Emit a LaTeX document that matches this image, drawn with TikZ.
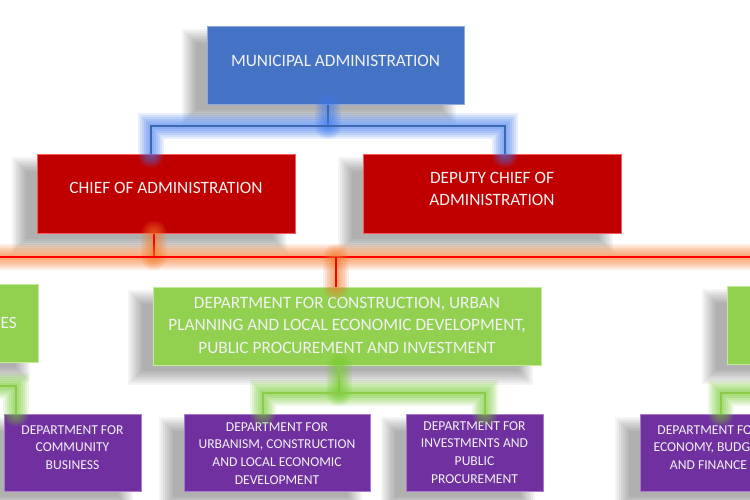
\documentclass[tikz,border=0pt]{standalone}
\usepackage{fontspec}
\setmainfont{Carlito}
\definecolor{cblue}{HTML}{4472C4}
\definecolor{cblueE}{HTML}{8FAADC}
\definecolor{cblueG}{HTML}{3F7BF0}
\definecolor{cred}{HTML}{C00000}
\definecolor{credE}{HTML}{FF5A5A}
\definecolor{cline}{HTML}{FF0000}
\definecolor{corange}{HTML}{F77A2A}
\definecolor{cgreen}{HTML}{92D050}
\definecolor{cgreenE}{HTML}{C0EB98}
\definecolor{cgreenL}{HTML}{8CCB48}
\definecolor{cgreenG}{HTML}{72CC2A}
\definecolor{cpurple}{HTML}{7030A0}
\definecolor{cpurpleE}{HTML}{A97BD0}
\definecolor{ctext}{HTML}{F2F2F2}
\pgfdeclarelayer{bottom}
\pgfdeclarelayer{shade}
\pgfsetlayers{bottom,shade,main}
\tikzset{
  box/.style={rectangle, inner sep=0pt, line width=1pt},
  bluebox/.style={box, fill=cblue, draw=cblueE},
  redbox/.style={box, fill=cred, draw=credE},
  greenbox/.style={box, fill=cgreen, draw=cgreenE},
  purplebox/.style={box, fill=cpurple, draw=cpurpleE},
  bigtxt/.style={text=ctext, align=center, font=\fontsize{17.3}{22.5}\selectfont, inner sep=0pt},
  smalltxt/.style={text=ctext, align=center, font=\fontsize{13.6}{17.8}\selectfont, inner sep=0pt},
  shadelayer/.style={fill=black, opacity=0.045},
  glow/.style={preaction={draw=#1, line width=26pt, opacity=0.12, line cap=round},
               preaction={draw=#1, line width=22pt, opacity=0.13, line cap=round},
               preaction={draw=#1, line width=18pt, opacity=0.14, line cap=round},
               preaction={draw=#1, line width=14pt, opacity=0.15, line cap=round},
               preaction={draw=#1, line width=10pt, opacity=0.15, line cap=round},
               preaction={draw=#1, line width=6pt, opacity=0.15, line cap=round}},
  blueline/.style={glow=cblueG, draw=cblue!90!black, line width=2.6pt},
  redline/.style={glow=corange, draw=cline, line width=2.6pt},
  greenline/.style={glow=cgreenG, draw=cgreenL, line width=2.6pt},
}
\newcommand\boxshade[1]{%
  \foreach \d in {-8,-6,...,6} {%
    \fill[shadelayer] ([shift={(-17+\d,11+\d)}]#1.north west) rectangle ([shift={(-17-\d,11-\d)}]#1.south east);
  }%
}
\begin{document}
\begin{tikzpicture}[x=1pt, y=-1pt]
\useasboundingbox (0,0) rectangle (750,500);
\clip (0,0) rectangle (750,500);
\begin{pgfonlayer}{bottom}
\fill[white] (0,0) rectangle (750,500);
\end{pgfonlayer}

% boxes
\node[bluebox, minimum width=257pt, minimum height=78pt] (blue) at (335.5,66) {};
\node[bigtxt] (tblue) at ([yshift=5pt]blue.center) {MUNICIPAL ADMINISTRATION};

\node[redbox, minimum width=258pt, minimum height=78pt] (red1) at (166,194) {};
\node[bigtxt] (tred1) at ([yshift=6pt]red1.center) {CHIEF OF ADMINISTRATION};
\node[redbox, minimum width=258pt, minimum height=78pt] (red2) at (492,194) {};
\node[bigtxt] (tred2) at ([yshift=5pt]red2.center) {DEPUTY CHIEF OF\\ADMINISTRATION};

\node[greenbox, minimum width=258pt, minimum height=78pt] (greenL) at (-91,323) {};
\node[bigtxt, anchor=east] (tgreenL) at (17,323) {ES};
\node[greenbox, minimum width=388pt, minimum height=78pt] (greenC) at (347,326) {};
\node[bigtxt] (tgreenC) at ([yshift=1pt]greenC.center) {DEPARTMENT FOR CONSTRUCTION, URBAN\\PLANNING AND LOCAL ECONOMIC DEVELOPMENT,\\PUBLIC PROCUREMENT AND INVESTMENT};
\node[greenbox, minimum width=258pt, minimum height=78pt] (greenR) at (856,325) {};

\node[purplebox, minimum width=137pt, minimum height=77pt] (p1) at (72.5,452.5) {};
\node[smalltxt] (tp1) at ([yshift=5pt]p1.center) {DEPARTMENT FOR\\COMMUNITY\\BUSINESS};
\node[purplebox, minimum width=186pt, minimum height=77pt] (p2) at (277,452.5) {};
\node[smalltxt] (tp2) at ([yshift=-1pt]p2.center) {DEPARTMENT FOR\\URBANISM, CONSTRUCTION\\AND LOCAL ECONOMIC\\DEVELOPMENT};
\node[purplebox, minimum width=137pt, minimum height=77pt] (p3) at (474.5,452.5) {};
\node[smalltxt] (tp3) at ([yshift=0pt]p3.center) {DEPARTMENT FOR\\INVESTMENTS AND\\PUBLIC\\PROCUREMENT};
\node[purplebox, minimum width=137pt, minimum height=77pt] (p4) at (708.5,452.5) {};
\node[smalltxt] (tp4) at ([yshift=5pt]p4.center) {DEPARTMENT FOR\\ECONOMY, BUDGET\\AND FINANCE};

% shadows behind all boxes
\begin{pgfonlayer}{shade}
\boxshade{blue}
\boxshade{red1}
\boxshade{red2}
\boxshade{greenL}
\boxshade{greenC}
\boxshade{greenR}
\boxshade{p1}
\boxshade{p2}
\boxshade{p3}
\boxshade{p4}
\end{pgfonlayer}

% junction coordinates
\coordinate (bj) at (328,126);
\coordinate (bL) at (151,126);
\coordinate (bR) at (505,126);
\coordinate (rj) at (154,257);
\coordinate (rL) at (-30,257);
\coordinate (rR) at (780,257);
\coordinate (rC) at (336,257);
\coordinate (gj) at (339,393);
\coordinate (gL) at (263,393);
\coordinate (gR) at (485,393);
\coordinate (lg0) at (-30,386);
\coordinate (lg) at (16,386);
\coordinate (rg) at (721,393);
\coordinate (rg1) at (780,393);

% connectors
\draw[blueline] (blue.south -| bj) -- (bj);
\draw[blueline] (red1.north -| bL) -- (bL) -- (bR) -- (red2.north -| bR);

\draw[redline] (red1.south -| rj) -- (rj);
\draw[redline] (rL) -- (rR);
\draw[redline] (rC) -- (greenC.north -| rC);

\draw[greenline] (greenC.south -| gj) -- (gj);
\draw[greenline] (p2.north -| gL) -- (gL) -- (gR) -- (p3.north -| gR);
\draw[greenline] (lg0) -- (lg) -- (p1.north -| lg);
\draw[greenline] (rg1) -- (rg) -- (p4.north -| rg);
\end{tikzpicture}
\end{document}
